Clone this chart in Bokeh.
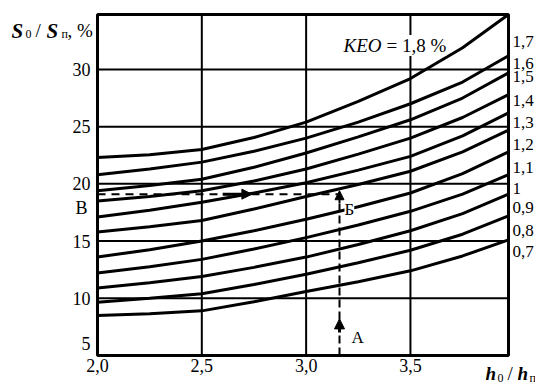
from bokeh.plotting import figure
from bokeh.models import Label, Arrow, NormalHead, ColumnDataSource
from bokeh.embed import file_html
from bokeh.resources import INLINE
from bokeh.core.properties import value

# ---- data ----
x_pts = [2.0, 2.25, 2.5, 2.75, 3.0, 3.25, 3.5, 3.75, 3.97]
keo_labels = ["1,7", "1,6", "1,5", "1,4", "1,3", "1,2", "1,1", "1", "0,9", "0,8", "0,7"]
c17 = [22.3, 22.55, 23.0, 24.05, 25.4, 27.2, 29.2, 31.9, 34.8]
c16 = [20.8, 21.3, 21.9, 22.85, 24.0, 25.4, 27.0, 28.9, 31.2]
c15 = [19.4, 19.85, 20.4, 21.45, 22.7, 24.1, 25.6, 27.5, 29.7]
c14 = [18.5, 18.9, 19.4, 20.25, 21.3, 22.6, 24.0, 25.8, 27.8]
c13 = [17.1, 17.7, 18.4, 19.2, 20.1, 21.2, 22.4, 24.2, 26.2]
c12 = [15.8, 16.25, 16.8, 17.8, 18.9, 19.95, 21.1, 22.8, 24.7]
c11 = [13.6, 14.25, 15.0, 15.9, 16.9, 18.0, 19.2, 20.9, 22.8]
c10 = [12.2, 12.75, 13.4, 14.3, 15.3, 16.4, 17.6, 19.1, 20.8]
c09 = [10.9, 11.35, 11.9, 12.7, 13.6, 14.7, 15.9, 17.4, 19.1]
c08 = [9.65, 10.0, 10.4, 11.2, 12.1, 13.1, 14.2, 15.6, 17.2]
c07 = [8.5, 8.65, 8.9, 9.7, 10.6, 11.45, 12.4, 13.7, 15.1]
curves = [c17, c16, c15, c14, c13, c12, c11, c10, c09, c08, c07]

x_min, x_max = 2.0, 3.97
y_min, y_max = 5, 34.8
x_ticks = [2.0, 2.5, 3.0, 3.5]
x_tick_labels = ["2,0", "2,5", "3,0", "3,5"]
x_grid = [2.5, 3.0, 3.5]
y_ticks = [5, 10, 15, 20, 25, 30]
y_tick_labels = ["5", "10", "15", "20", "25", "30"]
y_grid = [10, 15, 20, 25, 30]

# example construction (B -> Б, A)
ex_x = 3.16
ex_y = 19.1

# ---- layout (not data) ----
label_y = [32.4, 30.5, 29.4, 27.3, 25.4, 23.4, 21.4, 19.6, 17.9, 15.9, 14.1]
y_tick_offsets = [-12, 0, 0, 0, 0, 0]

W, H = 535, 385
FL, FR, FT, FB = 97, 508, 14, 355      # plot box in canvas pixels
SERIF = "Liberation Serif"

sx = (FR - FL) / (x_max - x_min)
sy = (FB - FT) / (y_max - y_min)
xr = (x_min - FL / sx, x_max + (W - FR) / sx)
yr = (y_min - (H - FB) / sy, y_max + FT / sy)

p = figure(width=W, height=H, x_range=xr, y_range=yr,
           output_backend="svg", toolbar_location=None,
           min_border=0, min_border_left=0, min_border_right=0,
           min_border_top=0, min_border_bottom=0)
p.axis.visible = False
p.grid.visible = False
p.outline_line_color = None
p.background_fill_color = "white"
p.border_fill_color = "white"

# grid lines
p.segment(x0=x_grid, x1=x_grid, y0=[y_min] * len(x_grid), y1=[y_max] * len(x_grid),
          line_color="black", line_width=2)
p.segment(x0=[x_min] * len(y_grid), x1=[x_max] * len(y_grid), y0=y_grid, y1=y_grid,
          line_color="black", line_width=2)

# curves
for c in curves:
    p.line(x_pts, c, line_color="black", line_width=3)

# frame
p.quad(left=[x_min], right=[x_max], bottom=[y_min], top=[y_max],
       fill_color=None, line_color="black", line_width=3)

# tick labels
ysrc = ColumnDataSource(dict(x=[x_min] * len(y_ticks), y=y_ticks, t=y_tick_labels,
                             off=y_tick_offsets))
p.text(x="x", y="y", text="t", source=ysrc, x_offset=-7, y_offset="off",
       text_align="right", text_baseline="middle",
       text_font=value(SERIF), text_font_size="18px", text_color="black")
xsrc = ColumnDataSource(dict(x=x_ticks, y=[y_min] * len(x_ticks), t=x_tick_labels))
p.text(x="x", y="y", text="t", source=xsrc, y_offset=3,
       text_align="center", text_baseline="top",
       text_font=value(SERIF), text_font_size="18px", text_color="black")

# right labels (KEO values)
rsrc = ColumnDataSource(dict(x=[x_max] * len(keo_labels), y=label_y, t=keo_labels))
p.text(x="x", y="y", text="t", source=rsrc, x_offset=4, text_baseline="middle",
       text_font=value(SERIF), text_font_size="17px", text_color="black")

# B dashed line and vertical dashed line with arrows
p.line([x_min, ex_x], [ex_y, ex_y], line_color="black", line_width=2, line_dash="8 6")
p.line([ex_x, ex_x], [y_min, ex_y], line_color="black", line_width=2, line_dash="8 4")
p.add_layout(Arrow(end=NormalHead(size=10, fill_color="black", line_color="black"),
                   x_start=2.6, y_start=ex_y, x_end=2.74, y_end=ex_y,
                   line_width=3, line_color="black"))
p.add_layout(Arrow(end=NormalHead(size=9, fill_color="black", line_color="black"),
                   x_start=ex_x, y_start=ex_y - 0.8, x_end=ex_x, y_end=ex_y + 0.3,
                   line_width=2, line_color="black"))
p.add_layout(Arrow(end=NormalHead(size=10, fill_color="black", line_color="black"),
                   x_start=ex_x, y_start=7.0, x_end=ex_x, y_end=8.2,
                   line_width=3, line_color="black"))


def lab(text, px, py, size, style="normal", bg=None):
    # px, py: left / baseline position in canvas pixels from the top-left
    p.add_layout(Label(x=px, y=H - py, x_units="screen", y_units="screen",
                       text=text, text_font=SERIF, text_font_size=f"{size}px",
                       text_font_style=style, text_color="black",
                       text_baseline="alphabetic",
                       background_fill_color=bg))


# letters on the chart
lab("Б", 344, 209, 17, bg="white")
lab("А", 351, 337, 17)
lab("В", 75, 207, 18)

# KEO header
lab("KEO", 343, 45, 19, style="italic")
lab("= 1,8 %", 386, 45, 19, bg="white")

# y title  S0 / Sп, %
lab("S", 11, 30, 21, style="bold italic")
lab("0", 25, 33, 12)
lab("/", 35, 30, 19)
lab("S", 46, 30, 21, style="bold italic")
lab("п", 61, 33, 12)
lab(", %", 67, 30, 19)

# x title  h0 / hп
lab("h", 485, 373, 19, style="bold italic")
lab("0", 497, 377, 12)
lab("/", 507, 373, 19)
lab("h", 517, 373, 19, style="bold italic")
lab("п", 529, 377, 12)

open("out.html", "w").write(file_html(p, INLINE))
